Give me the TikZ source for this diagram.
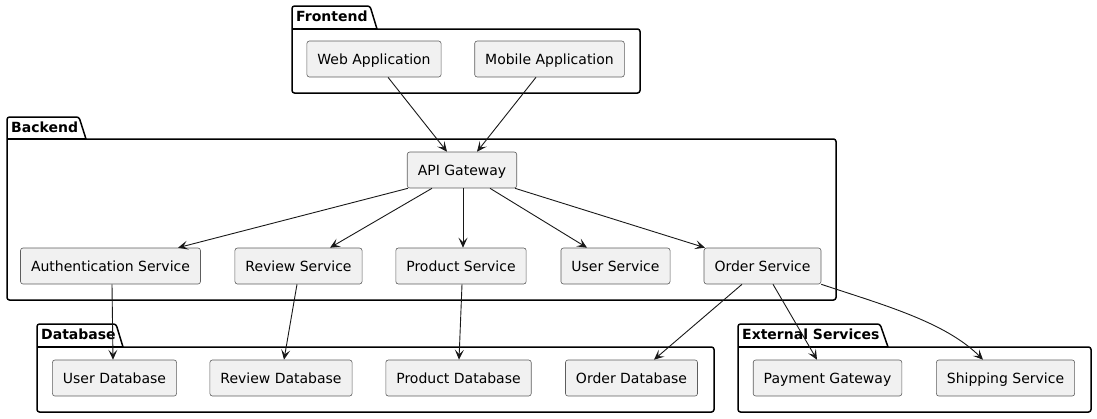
\documentclass[tikz,border=0pt]{standalone}
\usepackage{fontspec}
\setmainfont{DejaVu Sans}
\usetikzlibrary{arrows.meta}
\definecolor{boxfill}{HTML}{F1F1F1}
\definecolor{ink}{HTML}{181818}

\begin{document}
\begin{tikzpicture}
    [
    x=1pt, y=-1pt,
    font=\fontsize{14}{17}\selectfont,
    comp/.style={rectangle,draw=ink!70,fill=boxfill,rounded corners=2.5pt,line width=0.6pt,minimum height=36pt,inner xsep=10.5pt,text height=13pt,text depth=3pt},
    pkg/.style={draw=black,line width=1.5pt,rounded corners=2.5pt},
    pkglabel/.style={anchor=base west,inner sep=0pt,font=\fontsize{14}{17}\selectfont\bfseries},
    arr/.style={-{Stealth[length=10pt,width=9pt,inset=4.5pt]},draw=ink,line width=0.9pt}
    ]
    \useasboundingbox (0,0) rectangle (1097,418);
    % packages
    \draw [pkg] (377,29) -- (640,29) -- (640,93) -- (292,93) -- (292,6) -- (370,6) -- (377,29);
    \draw [pkg, rounded corners=0pt] (292,29) -- (377,29);
    \node (frontend) at (296,21.5) [pkglabel] {Frontend};
    \draw [pkg] (86,139) -- (836,139) -- (836,300) -- (7,300) -- (7,117) -- (79,117) -- (86,139);
    \draw [pkg, rounded corners=0pt] (7,139) -- (86,139);
    \node (backend) at (11,132.5) [pkglabel] {Backend};
    \draw [pkg] (123,347) -- (714,347) -- (714,412) -- (37,412) -- (37,324) -- (116,324) -- (123,347);
    \draw [pkg, rounded corners=0pt] (37,347) -- (123,347);
    \node (database) at (41,339.5) [pkglabel] {Database};
    \draw [pkg] (888,347) -- (1091,347) -- (1091,412) -- (738,412) -- (738,324) -- (880,324) -- (888,347);
    \draw [pkg, rounded corners=0pt] (738,347) -- (888,347);
    \node (external) at (742,339.5) [pkglabel] {External Services};
    % components
    \node (web) at (374,59) [comp] {Web Application};
    \node (mobile) at (549.5,59) [comp] {Mobile Application};
    \node (api) at (462,170) [comp] {API Gateway};
    \node (auth) at (110.5,266) [comp] {Authentication Service};
    \node (review) at (298.5,266) [comp] {Review Service};
    \node (product) at (461,266) [comp] {Product Service};
    \node (user) at (615.5,266) [comp] {User Service};
    \node (order) at (762.5,266) [comp] {Order Service};
    \node (userdb) at (114.5,378) [comp] {User Database};
    \node (reviewdb) at (281,378) [comp] {Review Database};
    \node (productdb) at (458.5,378) [comp] {Product Database};
    \node (orderdb) at (631.5,378) [comp] {Order Database};
    \node (payment) at (827.5,378) [comp] {Payment Gateway};
    \node (shipping) at (1005.5,378) [comp] {Shipping Service};
    % connections
    \draw [arr] ([xshift=14pt]web.south) to ([xshift=-15pt]api.north);
    \draw [arr] ([xshift=-13.5pt]mobile.south) to ([xshift=15pt]api.north);
    \draw [arr] ([xshift=-54pt]api.south) to ([xshift=67.5pt]auth.north);
    \draw [arr] ([xshift=-30pt]api.south) to ([xshift=31.5pt]review.north);
    \draw [arr] ([xshift=1pt]api.south) to ([xshift=2pt]product.north);
    \draw [arr] ([xshift=28pt]api.south) to ([xshift=-28.5pt]user.north);
    \draw [arr] ([xshift=53pt]api.south) to ([xshift=-57.5pt]order.north);
    \draw [arr] ([xshift=1.5pt]auth.south) to ([xshift=-1.5pt]userdb.north);
    \draw [arr] ([xshift=-1.5pt]review.south) to ([xshift=3pt]reviewdb.north);
    \draw [arr] ([xshift=1pt]product.south) to ([xshift=0.5pt]productdb.north);
    \draw [arr] ([xshift=-20.5pt]order.south) to ([xshift=22.5pt]orderdb.north);
    \draw [arr] ([xshift=10.5pt]order.south) to ([xshift=-10.5pt]payment.north);
    \draw [arr] (order.south east) .. controls +(60,20) and +(-38,-38) .. ([xshift=-22.5pt]shipping.north);
\end{tikzpicture}
\end{document}
